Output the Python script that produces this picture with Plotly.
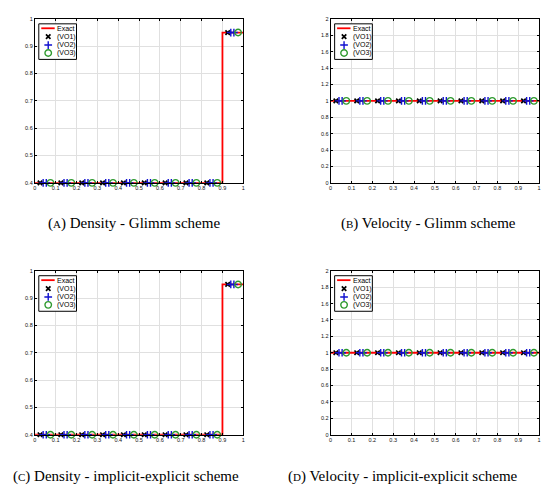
import plotly.graph_objects as go

# ---------------- data ----------------
exact_x = [0.0, 0.9, 1.0]
exact_density = [0.4, 0.95, 0.95]
exact_velocity = [1.0, 1.0, 1.0]

vo1_x = [0.025, 0.125, 0.225, 0.325, 0.425, 0.525, 0.625, 0.725, 0.825, 0.925]
vo1_density = [0.4, 0.4, 0.4, 0.4, 0.4, 0.4, 0.4, 0.4, 0.4, 0.95]
vo1_velocity = [1, 1, 1, 1, 1, 1, 1, 1, 1, 1]

vo2_x = [0.04, 0.055, 0.14, 0.155, 0.24, 0.255, 0.34, 0.355, 0.44, 0.455,
         0.54, 0.555, 0.64, 0.655, 0.74, 0.755, 0.84, 0.855, 0.94, 0.955]
vo2_density = [0.4] * 18 + [0.95, 0.95]
vo2_velocity = [1] * 20

vo3_x = [0.075, 0.175, 0.275, 0.375, 0.475, 0.575, 0.675, 0.775, 0.875, 0.975]
vo3_density = [0.4, 0.4, 0.4, 0.4, 0.4, 0.4, 0.4, 0.4, 0.4, 0.95]
vo3_velocity = [1, 1, 1, 1, 1, 1, 1, 1, 1, 1]

x_ticks = [0, 0.1, 0.2, 0.3, 0.4, 0.5, 0.6, 0.7, 0.8, 0.9, 1]
x_tick_labels = ["0", "0.1", "0.2", "0.3", "0.4", "0.5", "0.6", "0.7", "0.8", "0.9", "1"]
density_ticks = [0.4, 0.5, 0.6, 0.7, 0.8, 0.9, 1]
density_tick_labels = ["0.4", "0.5", "0.6", "0.7", "0.8", "0.9", "1"]
velocity_ticks = [0, 0.2, 0.4, 0.6, 0.8, 1, 1.2, 1.4, 1.6, 1.8, 2]
velocity_tick_labels = ["0", "0.2", "0.4", "0.6", "0.8", "1", "1.2", "1.4", "1.6", "1.8", "2"]

legend_names = ["Exact", "(VO1)", "(VO2)", "(VO3)"]
captions = [
    "(<span style='font-size:11px'>A</span>) Density - Glimm scheme",
    "(<span style='font-size:11px'>B</span>) Velocity - Glimm scheme",
    "(<span style='font-size:11px'>C</span>) Density - implicit-explicit scheme",
    "(<span style='font-size:11px'>D</span>) Velocity - implicit-explicit scheme",
]

# ---------------- layout helpers ----------------
PAGE_W, PAGE_H = 559, 497
OFF = 8  # default body margin of the html page
W, H = PAGE_W - OFF, PAGE_H - OFF

def px(x):  # page pixel -> paper
    return (x - OFF) / W

def py(y):
    return 1 - (y - OFF) / H

# panel boxes in page pixels (left, top, right, bottom)
boxes = [(33, 16, 243, 182), (331, 16, 541, 182), (33, 271, 243, 437), (331, 271, 541, 437)]
kinds = ["density", "velocity", "density", "velocity"]
caption_pos = [(133, 223), (430, 223), (125, 479), (404, 479)]

RED = "#ff0000"
BLUE = "#1010d0"
GREEN = "#2f9a2f"
TICKFONT = dict(family="Liberation Sans, Arial", size=5.5, color="#111")

fig = go.Figure()
layout = dict(
    width=W, height=H, margin=dict(l=0, r=0, t=0, b=0),
    paper_bgcolor="white", plot_bgcolor="white", showlegend=False,
)
annotations = []
shapes = []

MK1 = dict(symbol="x-thin", size=4.5, line=dict(color="black", width=1.7))
MK2 = dict(symbol="cross-thin", size=5.5, line=dict(color=BLUE, width=1.4))
MK3 = dict(symbol="circle-open", size=6.5, color=GREEN, line=dict(color=GREEN, width=1.4))

for i, (box, kind) in enumerate(zip(boxes, kinds)):
    n = i + 1
    xa = "x" if n == 1 else f"x{n}"
    ya = "y" if n == 1 else f"y{n}"
    xkey = "xaxis" if n == 1 else f"xaxis{n}"
    ykey = "yaxis" if n == 1 else f"yaxis{n}"
    l, t, r, b = box
    if kind == "density":
        ey, y1, y2, y3 = exact_density, vo1_density, vo2_density, vo3_density
        yt, ytl, yr = density_ticks, density_tick_labels, [0.4, 1]
    else:
        ey, y1, y2, y3 = exact_velocity, vo1_velocity, vo2_velocity, vo3_velocity
        yt, ytl, yr = velocity_ticks, velocity_tick_labels, [0, 2]

    fig.add_trace(go.Scatter(x=exact_x, y=ey, mode="lines", line=dict(color=RED, width=1.8, shape="hv"),
                             xaxis=xa, yaxis=ya, name=legend_names[0], cliponaxis=False))
    fig.add_trace(go.Scatter(x=vo1_x, y=y1, mode="markers", marker=MK1,
                             xaxis=xa, yaxis=ya, name=legend_names[1], cliponaxis=False))
    fig.add_trace(go.Scatter(x=vo2_x, y=y2, mode="markers", marker=MK2,
                             xaxis=xa, yaxis=ya, name=legend_names[2], cliponaxis=False))
    fig.add_trace(go.Scatter(x=vo3_x, y=y3, mode="markers", marker=MK3,
                             xaxis=xa, yaxis=ya, name=legend_names[3], cliponaxis=False))

    layout[xkey] = dict(domain=[px(l), px(r)], range=[0, 1], anchor=ya,
                        tickvals=x_ticks, ticktext=x_tick_labels, tickfont=TICKFONT,
                        showgrid=True, gridcolor="#e0e0e0", gridwidth=1,
                        showline=True, linecolor="black", linewidth=1, mirror="ticks",
                        ticks="inside", ticklen=2, tickcolor="black", zeroline=False, fixedrange=True)
    layout[ykey] = dict(domain=[py(b), py(t)], range=yr, anchor=xa,
                        tickvals=yt, ticktext=ytl, tickfont=TICKFONT,
                        showgrid=True, gridcolor="#e0e0e0", gridwidth=1,
                        showline=True, linecolor="black", linewidth=1, mirror="ticks",
                        ticks="inside", ticklen=2, tickcolor="black", zeroline=False, fixedrange=True)

    # ---- manual legend (pixel offsets inside the panel -> axis units) ----
    pw, ph = r - l, b - t
    def dx(p):
        return (p - l) / pw
    def dy(p):
        return yr[1] - (p - t) / ph * (yr[1] - yr[0])

    lx, ly = l + 4, t + 5
    lw, lh = 38, 36
    shapes.append(dict(type="rect", xref=xa, yref=ya,
                       x0=dx(lx), x1=dx(lx + lw), y0=dy(ly + lh), y1=dy(ly),
                       line=dict(width=0), fillcolor="white", layer="between"))
    shapes.append(dict(type="rect", xref="paper", yref="paper",
                       x0=px(lx), x1=px(lx + lw), y0=py(ly + lh), y1=py(ly),
                       line=dict(color="black", width=1), fillcolor="rgba(0,0,0,0)", layer="above"))
    rows = [ly + 4.5, ly + 13, ly + 21.5, ly + 29.5]
    shapes.append(dict(type="line", xref="paper", yref="paper",
                       x0=px(lx + 2.5), x1=px(lx + 16), y0=py(rows[0]), y1=py(rows[0]),
                       line=dict(color=RED, width=1.8), layer="above"))
    for k, name in enumerate(legend_names):
        annotations.append(dict(xref="paper", yref="paper", x=px(lx + 16.5), y=py(rows[k]),
                                text=name, showarrow=False, xanchor="left", yanchor="middle",
                                font=dict(family="Liberation Sans, Arial", size=7, color="black")))
    sym_x = lx + 9.5
    fig.add_trace(go.Scatter(x=[dx(sym_x)], y=[dy(rows[1])], mode="markers", marker=MK1,
                             xaxis=xa, yaxis=ya, cliponaxis=False))
    fig.add_trace(go.Scatter(x=[dx(sym_x)], y=[dy(rows[2])], mode="markers", marker=MK2,
                             xaxis=xa, yaxis=ya, cliponaxis=False))
    fig.add_trace(go.Scatter(x=[dx(sym_x)], y=[dy(rows[3])], mode="markers", marker=MK3,
                             xaxis=xa, yaxis=ya, cliponaxis=False))

    cx, cy = caption_pos[i]
    annotations.append(dict(xref="paper", yref="paper", x=px(cx), y=py(cy), text=captions[i],
                            showarrow=False, xanchor="center", yanchor="middle",
                            font=dict(family="Liberation Serif, DejaVu Serif", size=15, color="black")))

layout["annotations"] = annotations
layout["shapes"] = shapes
fig.update_layout(**layout)
fig.write_html("out.html")
